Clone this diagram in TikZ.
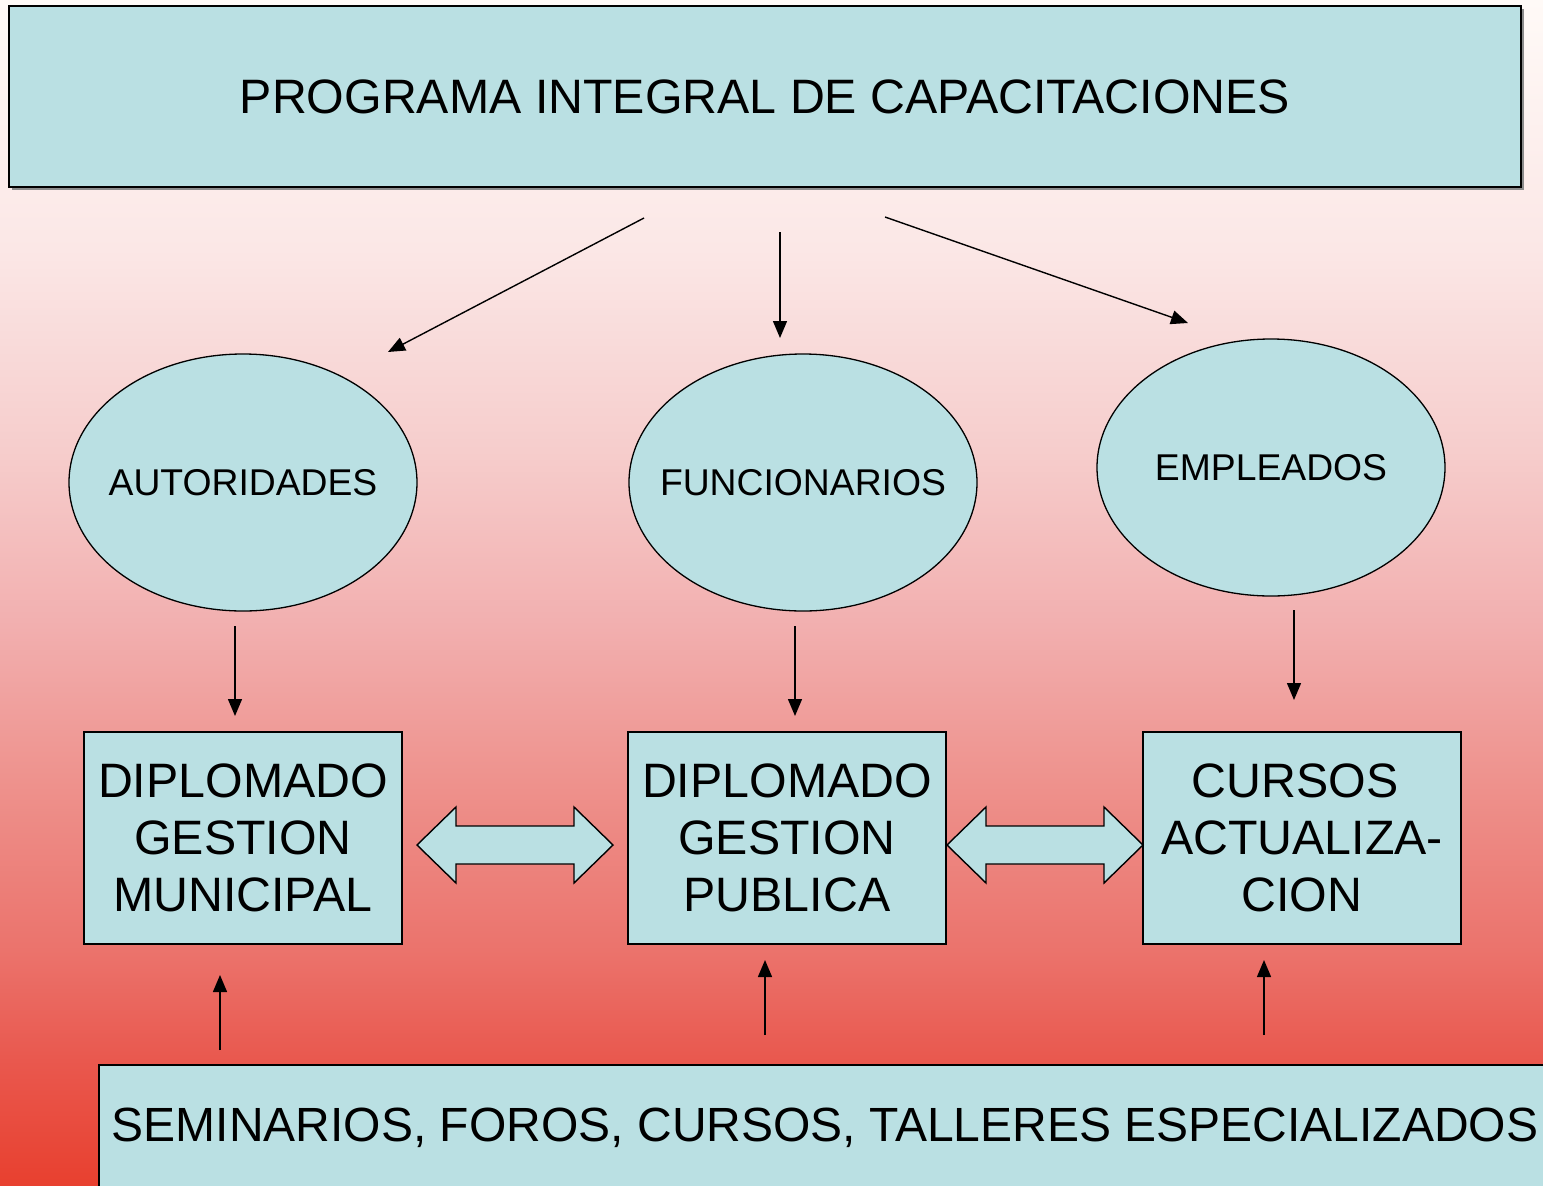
\documentclass[tikz,border=0pt]{standalone}
\usepackage{fontspec}
\setmainfont{Liberation Sans}
\usetikzlibrary{shapes.geometric,arrows.meta,shadows}
\definecolor{boxfill}{HTML}{BAE0E3}
\definecolor{bgA}{HTML}{E8402F}
\definecolor{bgB}{HTML}{E9584E}
\definecolor{bgC}{HTML}{EB736C}
\definecolor{bgD}{HTML}{EE928D}
\definecolor{bgE}{HTML}{F2B0B0}
\definecolor{bgF}{HTML}{F6CDCC}
\definecolor{bgG}{HTML}{FBE7E6}
\definecolor{bgH}{HTML}{FFFAF7}
\pgfdeclareverticalshading{bgshade}{100bp}{color(0bp)=(bgA); color(25bp)=(bgA); color(30.3bp)=(bgB); color(34.95bp)=(bgC); color(42.1bp)=(bgD); color(48.85bp)=(bgE); color(56bp)=(bgF); color(64.5bp)=(bgG); color(75bp)=(bgH); color(100bp)=(bgH)}
\newcommand{\ztext}[1]{\makebox[0pt][c]{#1}}
\begin{document}
\begin{tikzpicture}[x=1pt,y=-1pt,
  bigfont/.style={font=\fontsize{48.3}{57}\selectfont},
  ellfont/.style={font=\fontsize{37.3}{44}\selectfont},
  titlebox/.style={draw=black, line width=2.4pt, fill=boxfill, minimum width=1512pt, minimum height=181pt, inner sep=0pt, bigfont,
    drop shadow={shadow xshift=3pt, shadow yshift=-3pt, fill=black!45, opacity=1}},
  ellbox/.style={ellipse, draw=black, line width=1.3pt, fill=boxfill, minimum width=348pt, minimum height=257pt, inner sep=0pt, ellfont},
  stagebox/.style={draw=black, line width=1.5pt, fill=boxfill, minimum width=318pt, minimum height=212pt, inner sep=0pt, align=center, bigfont},
  basebox/.style={draw=black, line width=1.5pt, fill=boxfill, minimum width=1452pt, minimum height=126pt, inner sep=0pt, font=\fontsize{48}{57}\selectfont},
  conn/.style={line width=1.4pt, -{Triangle[length=17pt,width=14pt]}},
  dblarrow/.style={draw=black, line width=1.4pt, fill=boxfill, line join=miter}
]
\useasboundingbox (0,0) rectangle (1543,1186);
\fill[shading=bgshade] (0,0) rectangle (1543,1186);

% main nodes
\node[titlebox] (title) at (765,96.5) {PROGRAMA INTEGRAL DE CAPACITACIONES};
\node[ellbox] (aut) at (243,482.5) {\ztext{AUTORIDADES}};
\node[ellbox] (fun) at (803,482.5) {\ztext{FUNCIONARIOS}};
\node[ellbox] (emp) at (1271,467.5) {\ztext{EMPLEADOS}};
\node[stagebox] (dgm) at (243,838) {DIPLOMADO\\GESTION\\MUNICIPAL};
\node[stagebox] (dgp) at (787,838) {DIPLOMADO\\GESTION\\PUBLICA};
\node[stagebox] (cur) at (1302,838) {CURSOS\hspace*{14pt}\\ACTUALIZA-\\CION};
\node[basebox] (sem) at (825,1128) {SEMINARIOS, FOROS, CURSOS, TALLERES ESPECIALIZADOS};

% free connector ends
\coordinate (t1) at (644,218);  \coordinate (t1e) at (388,352);
\coordinate (t2) at (780,232);  \coordinate (t2e) at (780,338);
\coordinate (t3) at (885,217);  \coordinate (t3e) at (1188,323);
\coordinate (e1) at (235,626);  \coordinate (e1e) at (235,716);
\coordinate (e2) at (795,626);  \coordinate (e2e) at (795,716);
\coordinate (e3) at (1294,610); \coordinate (e3e) at (1294,700);
\coordinate (s1) at (220,1050); \coordinate (s1e) at (220,975);
\coordinate (s2) at (765,1035); \coordinate (s2e) at (765,960);
\coordinate (s3) at (1264,1035);\coordinate (s3e) at (1264,960);

\draw[conn] (t1) -- (t1e);
\draw[conn] (t2) -- (t2e);
\draw[conn] (t3) -- (t3e);
\draw[conn] (e1) -- (e1e);
\draw[conn] (e2) -- (e2e);
\draw[conn] (e3) -- (e3e);
\draw[conn] (s1) -- (s1e);
\draw[conn] (s2) -- (s2e);
\draw[conn] (s3) -- (s3e);

% double block arrows
\draw[dblarrow] (417,845) -- (456,807) -- (456,826) -- (574,826) -- (574,807) -- (613,845)
  -- (574,883) -- (574,864) -- (456,864) -- (456,883) -- cycle;
\draw[dblarrow] (947,845) -- (986,807) -- (986,826) -- (1104,826) -- (1104,807) -- (1143,845)
  -- (1104,883) -- (1104,864) -- (986,864) -- (986,883) -- cycle;
\end{tikzpicture}
\end{document}
